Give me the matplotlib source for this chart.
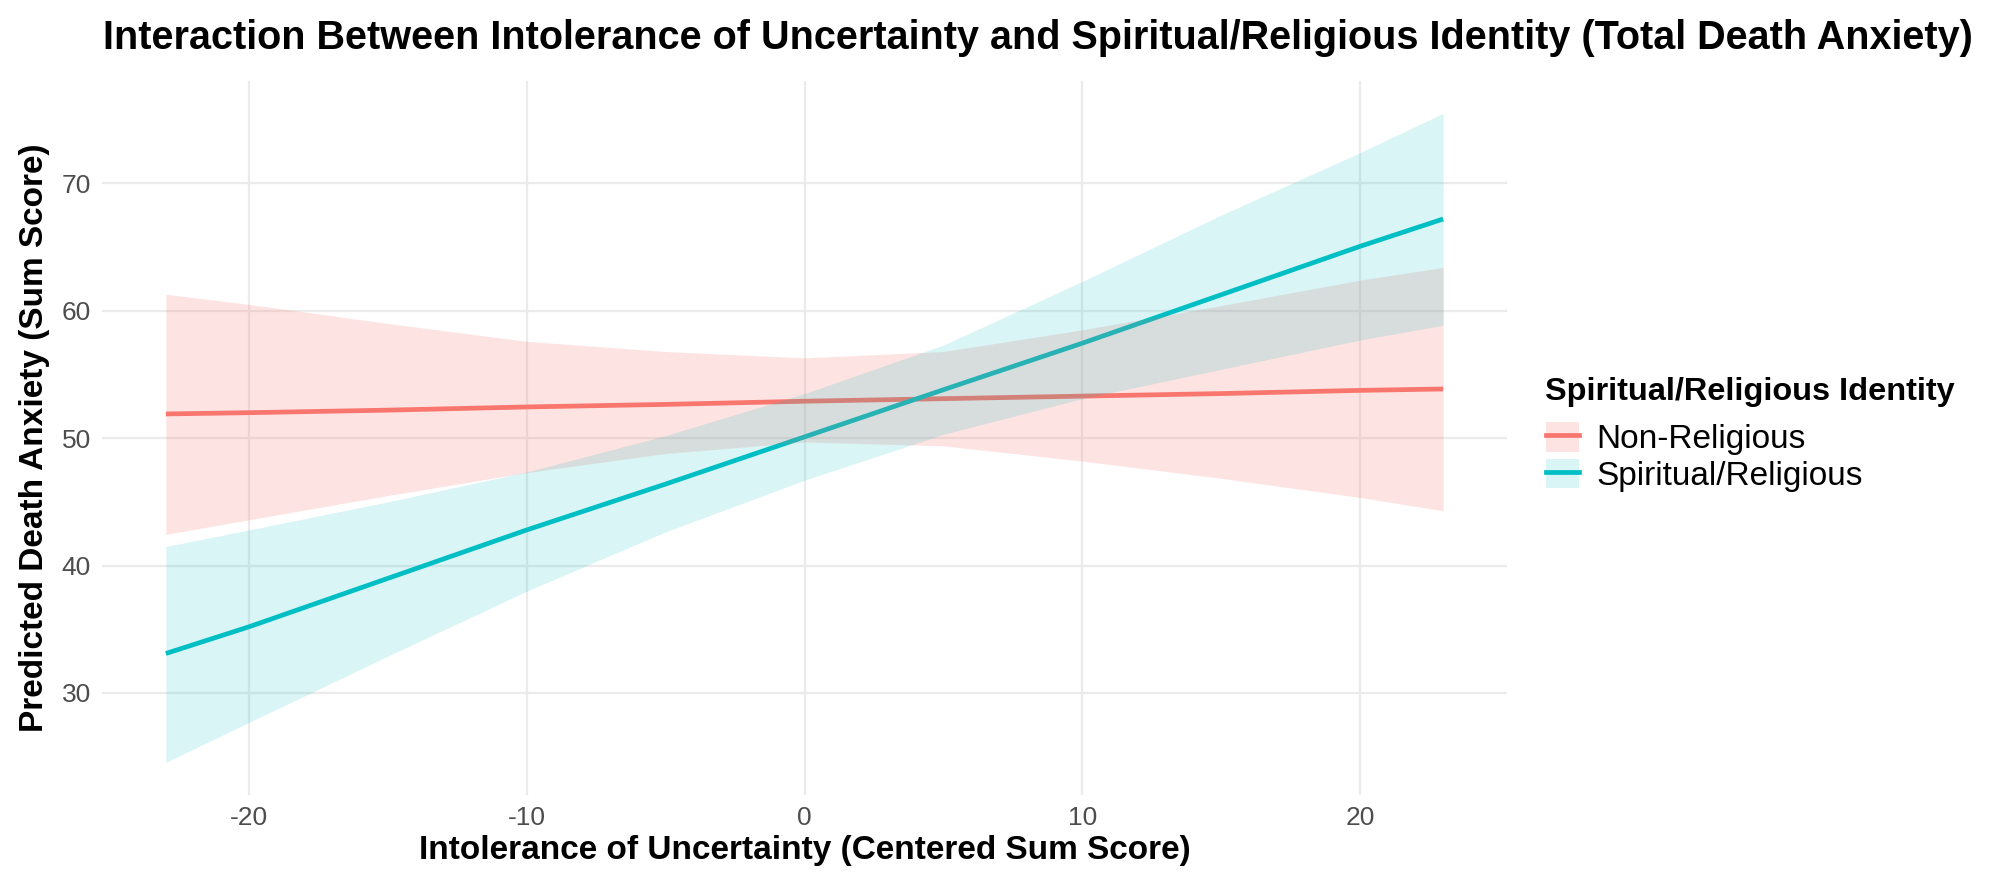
import matplotlib
matplotlib.use("Agg")
import matplotlib.pyplot as plt
from matplotlib.patches import Patch
from matplotlib.lines import Line2D

plt.rcParams['font.family'] = ['Liberation Sans', 'DejaVu Sans']
plt.rcParams['axes.unicode_minus'] = False

# values
iu_centered = [-23, -20, -15, -10, -5, 0, 5, 10, 15, 20, 23]

# Non-Religious
nonrel_fit = [51.9, 52.0, 52.2, 52.45, 52.65, 52.9, 53.1, 53.3, 53.5, 53.75, 53.86]
nonrel_upper = [61.3, 60.5, 59.0, 57.6, 56.8, 56.3, 56.8, 58.5, 60.4, 62.4, 63.4]
nonrel_lower = [42.45, 43.6, 45.5, 47.3, 48.8, 49.7, 49.4, 48.2, 46.85, 45.35, 44.3]

# Spiritual/Religious
spirit_fit = [33.1, 35.2, 39.0, 42.8, 46.4, 50.1, 53.8, 57.45, 61.25, 65.05, 67.2]
spirit_upper = [41.5, 42.8, 45.0, 47.35, 50.2, 53.5, 57.3, 62.3, 67.5, 72.4, 75.5]
spirit_lower = [24.56, 27.7, 32.9, 38.0, 42.65, 46.7, 50.3, 53.1, 55.4, 57.7, 58.86]

groups = ['Non-Religious', 'Spiritual/Religious']
colors = ['#F8766D', '#00BFC4']
alphas = [0.2, 0.15]

x_ticks = [-20, -10, 0, 10, 20]
y_ticks = [30, 40, 50, 60, 70]

fig = plt.figure(figsize=(20, 8.88), dpi=100)
ax = fig.add_axes([0.051, 0.105, 0.7025, 0.804])

series = [(nonrel_fit, nonrel_lower, nonrel_upper), (spirit_fit, spirit_lower, spirit_upper)]

# lines first, ribbons on top (as in the original)
for (fit, lo, hi), col in zip(series, colors):
    ax.plot(iu_centered, fit, color=col, lw=3.4, zorder=2, solid_capstyle='butt')
for (fit, lo, hi), col, a in zip(series, colors, alphas):
    ax.fill_between(iu_centered, lo, hi, color=col, alpha=a, lw=0, zorder=3)

# ggplot-like expansion of 5%
xmin, xmax = min(iu_centered), max(iu_centered)
ymin = min(min(nonrel_lower), min(spirit_lower))
ymax = max(max(nonrel_upper), max(spirit_upper))
ax.set_xlim(xmin - 0.05 * (xmax - xmin), xmax + 0.05 * (xmax - xmin))
ax.set_ylim(ymin - 0.05 * (ymax - ymin), ymax + 0.05 * (ymax - ymin))

ax.set_xticks(x_ticks)
ax.set_yticks(y_ticks)
ax.grid(True, color='#EBEBEB', lw=1.6)
ax.set_axisbelow(True)
for s in ax.spines.values():
    s.set_visible(False)
ax.tick_params(length=0, labelsize=19, labelcolor='#4D4D4D', pad=8)

ax.set_xlabel('Intolerance of Uncertainty (Centered Sum Score)', fontsize=24,
              fontweight='bold', labelpad=4)
ax.set_ylabel('Predicted Death Anxiety (Sum Score)', fontsize=24,
              fontweight='bold', labelpad=8)

fig.text(0.0515, 1 - 38 / 888,
         'Interaction Between Intolerance of Uncertainty and Spiritual/Religious Identity (Total Death Anxiety)',
         fontsize=28.5, fontweight='bold', ha='left', va='center')

# legend (title placed separately to get ggplot spacing)
fig.text(0.7725, 1 - 392 / 888, 'Spiritual/Religious Identity', fontsize=23.4,
         fontweight='bold', ha='left', va='center')
handles = [(Patch(facecolor=c, alpha=a, lw=0), Line2D([], [], color=c, lw=3.4))
           for c, a in zip(colors, alphas)]
fig.legend(handles, groups, loc='upper left', bbox_to_anchor=(0.773, 1 - 422 / 888),
           frameon=False, fontsize=24, handlelength=1.0, handleheight=1.0,
           handletextpad=0.5, labelspacing=0.1, borderaxespad=0, borderpad=0)

fig.savefig('out.png', dpi=100)
